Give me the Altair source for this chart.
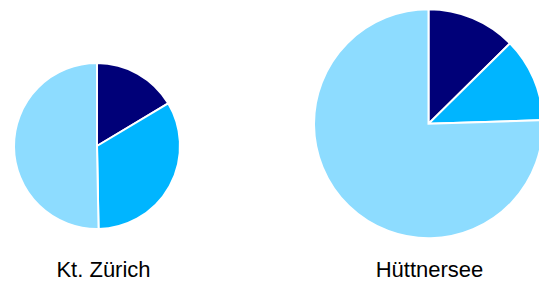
import altair as alt
import pandas as pd

regions = ["Kt. Zürich", "Hüttnersee"]
categories = ["A", "B", "C"]
zurich_values = [16.4, 33.3, 50.3]
huettnersee_values = [12.6, 11.9, 75.5]
colors = ["#000078", "#00B5FF", "#8DDCFF"]

rows = []
for reg, vals in zip(regions, [zurich_values, huettnersee_values]):
    for i, (c, v) in enumerate(zip(categories, vals)):
        rows.append({"region": reg, "category": c, "value": v, "idx": i})
df = pd.DataFrame(rows)
labels = pd.DataFrame({"region": regions})

color = alt.Color("category:N", scale=alt.Scale(domain=categories, range=colors), legend=None)

def pie(reg, cx, cy, r):
    return alt.Chart(df).transform_filter(alt.datum.region == reg).mark_arc(
        radius=r, stroke="white", strokeWidth=2
    ).encode(
        theta=alt.Theta("value:Q", stack=True),
        order=alt.Order("idx:O"),
        color=color,
        x=alt.value(cx),
        y=alt.value(cy),
    )

p1 = pie(regions[0], 89, 138, 83)
p2 = pie(regions[1], 420.5, 115.8, 114.5)

t1 = alt.Chart(labels).transform_filter(alt.datum.region == regions[0]).mark_text(
    font="Liberation Sans", fontSize=22, baseline="alphabetic", align="center", color="black"
).encode(text="region:N", x=alt.value(95.5), y=alt.value(268.5))
t2 = alt.Chart(labels).transform_filter(alt.datum.region == regions[1]).mark_text(
    font="Liberation Sans", fontSize=22, baseline="alphabetic", align="center", color="black"
).encode(text="region:N", x=alt.value(421.5), y=alt.value(268.5))

chart = alt.layer(p1, p2, t1, t2).properties(
    width=531, height=275, padding=0, autosize=alt.AutoSizeParams(type="none")
).configure_view(stroke=None)

chart.save("out.html", embed_options={"renderer": "svg", "actions": False})
